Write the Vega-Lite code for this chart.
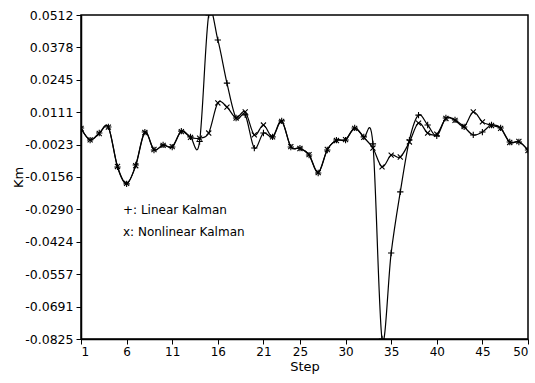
{
  "$schema": "https://vega.github.io/schema/vega-lite/v6.json",
  "width": 447,
  "height": 324,
  "autosize": {"type": "none"},
  "padding": {"left": 81, "top": 15, "right": 7, "bottom": 44},
  "background": "white",
  "config": {
    "view": {"stroke": "black", "strokeWidth": 1.5},
    "axis": {
      "grid": false,
      "domainColor": "black",
      "domainWidth": 1.5,
      "tickColor": "black",
      "tickSize": 5,
      "labelColor": "black",
      "labelFont": "DejaVu Sans",
      "labelFontSize": 12,
      "titleFont": "DejaVu Sans",
      "titleFontSize": 13,
      "titleFontWeight": "normal",
      "titleColor": "black"
    }
  },
  "datasets": {
    "series": [
      {"step": 1, "series": "Linear", "km": 0.0046},
      {"step": 2, "series": "Linear", "km": -0.0004},
      {"step": 3, "series": "Linear", "km": 0.0025},
      {"step": 4, "series": "Linear", "km": 0.0050},
      {"step": 5, "series": "Linear", "km": -0.0115},
      {"step": 6, "series": "Linear", "km": -0.0185},
      {"step": 7, "series": "Linear", "km": -0.0107},
      {"step": 8, "series": "Linear", "km": 0.0029},
      {"step": 9, "series": "Linear", "km": -0.0045},
      {"step": 10, "series": "Linear", "km": -0.0024},
      {"step": 11, "series": "Linear", "km": -0.0033},
      {"step": 12, "series": "Linear", "km": 0.0033},
      {"step": 13, "series": "Linear", "km": 0.0009},
      {"step": 14, "series": "Linear", "km": -0.0010},
      {"step": 15, "series": "Linear", "km": 0.0512},
      {"step": 16, "series": "Linear", "km": 0.0409},
      {"step": 17, "series": "Linear", "km": 0.0231},
      {"step": 18, "series": "Linear", "km": 0.0087},
      {"step": 19, "series": "Linear", "km": 0.0100},
      {"step": 20, "series": "Linear", "km": -0.0037},
      {"step": 21, "series": "Linear", "km": 0.0025},
      {"step": 22, "series": "Linear", "km": 0.0009},
      {"step": 23, "series": "Linear", "km": 0.0075},
      {"step": 24, "series": "Linear", "km": -0.0033},
      {"step": 25, "series": "Linear", "km": -0.0037},
      {"step": 26, "series": "Linear", "km": -0.0066},
      {"step": 27, "series": "Linear", "km": -0.0140},
      {"step": 28, "series": "Linear", "km": -0.0045},
      {"step": 29, "series": "Linear", "km": -0.0004},
      {"step": 30, "series": "Linear", "km": -0.0004},
      {"step": 31, "series": "Linear", "km": 0.0046},
      {"step": 32, "series": "Linear", "km": 0.0009},
      {"step": 33, "series": "Linear", "km": -0.0020},
      {"step": 34, "series": "Linear", "km": -0.0825},
      {"step": 35, "series": "Linear", "km": -0.0470},
      {"step": 36, "series": "Linear", "km": -0.0218},
      {"step": 37, "series": "Linear", "km": -0.0004},
      {"step": 38, "series": "Linear", "km": 0.0099},
      {"step": 39, "series": "Linear", "km": 0.0058},
      {"step": 40, "series": "Linear", "km": 0.0013},
      {"step": 41, "series": "Linear", "km": 0.0087},
      {"step": 42, "series": "Linear", "km": 0.0079},
      {"step": 43, "series": "Linear", "km": 0.0050},
      {"step": 44, "series": "Linear", "km": 0.0017},
      {"step": 45, "series": "Linear", "km": 0.0029},
      {"step": 46, "series": "Linear", "km": 0.0058},
      {"step": 47, "series": "Linear", "km": 0.0046},
      {"step": 48, "series": "Linear", "km": -0.0012},
      {"step": 49, "series": "Linear", "km": -0.0012},
      {"step": 50, "series": "Linear", "km": -0.0045},
      {"step": 1, "series": "Nonlinear", "km": 0.0044},
      {"step": 2, "series": "Nonlinear", "km": -0.0003},
      {"step": 3, "series": "Nonlinear", "km": 0.0023},
      {"step": 4, "series": "Nonlinear", "km": 0.0049},
      {"step": 5, "series": "Nonlinear", "km": -0.0113},
      {"step": 6, "series": "Nonlinear", "km": -0.0183},
      {"step": 7, "series": "Nonlinear", "km": -0.0110},
      {"step": 8, "series": "Nonlinear", "km": 0.0027},
      {"step": 9, "series": "Nonlinear", "km": -0.0043},
      {"step": 10, "series": "Nonlinear", "km": -0.0026},
      {"step": 11, "series": "Nonlinear", "km": -0.0031},
      {"step": 12, "series": "Nonlinear", "km": 0.0031},
      {"step": 13, "series": "Nonlinear", "km": 0.0007},
      {"step": 14, "series": "Nonlinear", "km": 0.0004},
      {"step": 15, "series": "Nonlinear", "km": 0.0025},
      {"step": 16, "series": "Nonlinear", "km": 0.0149},
      {"step": 17, "series": "Nonlinear", "km": 0.0132},
      {"step": 18, "series": "Nonlinear", "km": 0.0087},
      {"step": 19, "series": "Nonlinear", "km": 0.0112},
      {"step": 20, "series": "Nonlinear", "km": 0.0017},
      {"step": 21, "series": "Nonlinear", "km": 0.0058},
      {"step": 22, "series": "Nonlinear", "km": 0.0009},
      {"step": 23, "series": "Nonlinear", "km": 0.0073},
      {"step": 24, "series": "Nonlinear", "km": -0.0031},
      {"step": 25, "series": "Nonlinear", "km": -0.0039},
      {"step": 26, "series": "Nonlinear", "km": -0.0064},
      {"step": 27, "series": "Nonlinear", "km": -0.0138},
      {"step": 28, "series": "Nonlinear", "km": -0.0043},
      {"step": 29, "series": "Nonlinear", "km": -0.0006},
      {"step": 30, "series": "Nonlinear", "km": -0.0002},
      {"step": 31, "series": "Nonlinear", "km": 0.0044},
      {"step": 32, "series": "Nonlinear", "km": 0.0007},
      {"step": 33, "series": "Nonlinear", "km": -0.0037},
      {"step": 34, "series": "Nonlinear", "km": -0.0115},
      {"step": 35, "series": "Nonlinear", "km": -0.0066},
      {"step": 36, "series": "Nonlinear", "km": -0.0074},
      {"step": 37, "series": "Nonlinear", "km": -0.0012},
      {"step": 38, "series": "Nonlinear", "km": 0.0066},
      {"step": 39, "series": "Nonlinear", "km": 0.0025},
      {"step": 40, "series": "Nonlinear", "km": 0.0020},
      {"step": 41, "series": "Nonlinear", "km": 0.0085},
      {"step": 42, "series": "Nonlinear", "km": 0.0077},
      {"step": 43, "series": "Nonlinear", "km": 0.0052},
      {"step": 44, "series": "Nonlinear", "km": 0.0112},
      {"step": 45, "series": "Nonlinear", "km": 0.0071},
      {"step": 46, "series": "Nonlinear", "km": 0.0056},
      {"step": 47, "series": "Nonlinear", "km": 0.0044},
      {"step": 48, "series": "Nonlinear", "km": -0.0014},
      {"step": 49, "series": "Nonlinear", "km": -0.0010},
      {"step": 50, "series": "Nonlinear", "km": -0.0047}
    ],
    "labels": [
      {"step": 5.6, "km": -0.0293, "label": "+: Linear Kalman"},
      {"step": 5.6, "km": -0.0384, "label": "x: Nonlinear Kalman"}
    ]
  },
  "encoding": {
    "x": {
      "field": "step",
      "type": "quantitative",
      "title": "Step",
      "scale": {"domain": [1, 50], "nice": false, "zero": false},
      "axis": {"values": [1, 6, 11, 16, 21, 25, 30, 35, 40, 45, 50], "format": "d", "labelPadding": 2, "titlePadding": 3}
    },
    "y": {
      "field": "km",
      "type": "quantitative",
      "title": "Km",
      "scale": {"domain": [-0.0825, 0.0512], "nice": false, "zero": false},
      "axis": {
        "values": [0.0512, 0.0378, 0.0245, 0.0111, -0.0023, -0.0156, -0.029, -0.0424, -0.0557, -0.0691, -0.0825],
        "labelExpr": "replace(format(datum.value, '.4f'), '\u2212', '-')",
        "labelFontSize": 12.5,
        "labelPadding": 3,
        "titlePadding": -1
      }
    }
  },
  "layer": [
    {
      "data": {"name": "series"},
      "mark": {"type": "line", "interpolate": "cardinal", "color": "black", "strokeWidth": 1.2, "clip": true},
      "encoding": {"detail": {"field": "series"}}
    },
    {
      "data": {"name": "series"},
      "mark": {"type": "point", "filled": false, "color": "black", "strokeWidth": 1.1, "size": 40, "opacity": 1, "clip": true},
      "encoding": {
        "shape": {
          "field": "series",
          "type": "nominal",
          "scale": {"domain": ["Linear", "Nonlinear"], "range": ["M-1,0L1,0M0,-1L0,1", "M-0.8,-0.8L0.8,0.8M-0.8,0.8L0.8,-0.8"]},
          "legend": null
        }
      }
    },
    {
      "data": {"name": "labels"},
      "mark": {"type": "text", "align": "left", "baseline": "middle", "font": "DejaVu Sans", "fontSize": 12, "color": "black"},
      "encoding": {"text": {"field": "label"}}
    }
  ]
}
